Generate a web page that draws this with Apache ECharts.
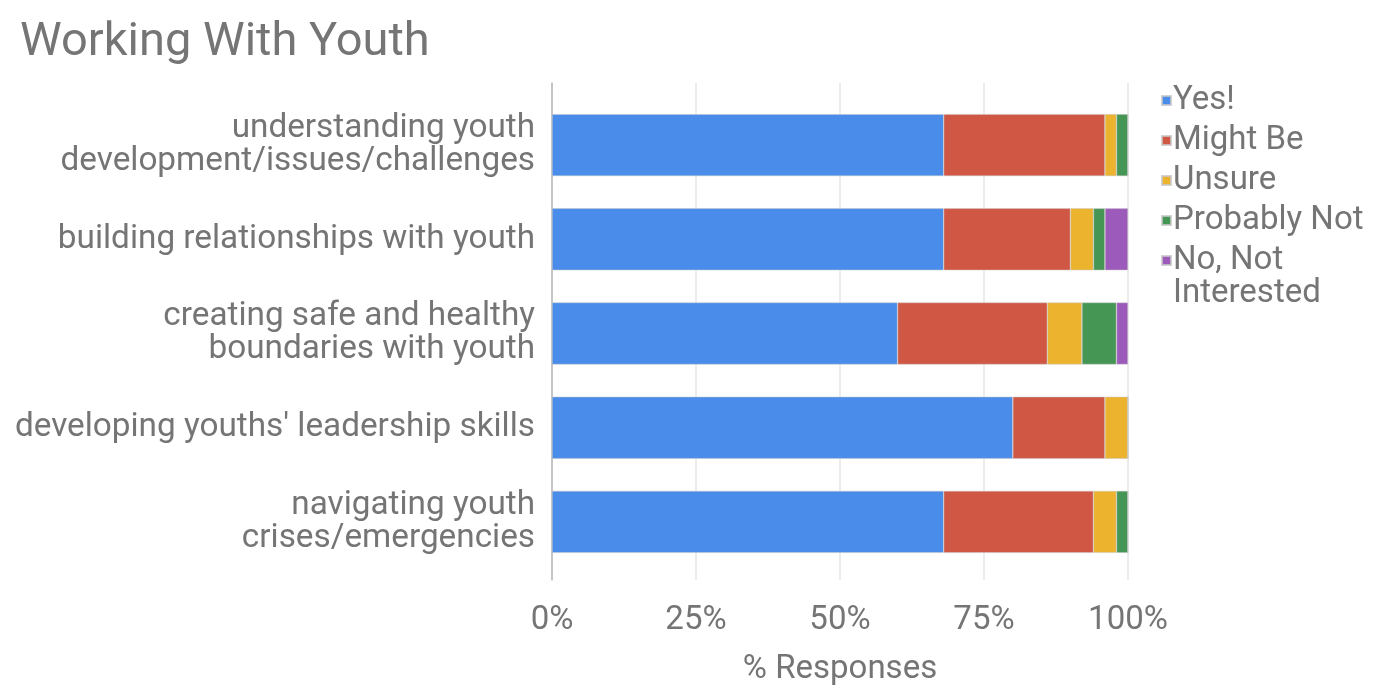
<!DOCTYPE html>
<html>
<head>
<meta charset="utf-8">
<script src="https://cdn.jsdelivr.net/npm/echarts@6/dist/echarts.min.js"></script>
<style>
html, body { margin: 0; padding: 0; background: #fff; }
#chart { width: 1382px; height: 694px; }
</style>
</head>
<body>
<div id="chart"></div>
<script>
var categories = [
    'understanding youth\ndevelopment/issues/challenges',
    'building relationships with youth',
    'creating safe and healthy\nboundaries with youth',
    "developing youths' leadership skills",
    'navigating youth\ncrises/emergencies'
];
var yes = [68, 68, 60, 80, 68];
var mightBe = [28, 22, 26, 16, 26];
var unsure = [2, 4, 6, 4, 4];
var probablyNot = [2, 2, 6, 0, 2];
var notInterested = [0, 4, 2, 0, 0];
var seriesNames = ['Yes!', 'Might Be', 'Unsure', 'Probably Not', 'No, Not Interested'];
var colors = ['#4a8ce9', '#cf5744', '#ecb32f', '#459654', '#9c5bba'];
var xTicks = [0, 25, 50, 75, 100];

var chart = echarts.init(document.getElementById('chart'));
var font = 'Roboto, sans-serif';
var grey = '#757575';

var dataSets = [yes, mightBe, unsure, probablyNot, notInterested];
var series = dataSets.map(function (d, i) {
    return {
        name: seriesNames[i],
        type: 'bar',
        stack: 'total',
        xAxisIndex: 0,
        yAxisIndex: 0,
        barWidth: 62,
        data: d,
        itemStyle: { color: colors[i], borderColor: 'rgba(200,200,200,0.8)', borderWidth: 0.6 }
    };
});

var legendText = { fontFamily: font, fontSize: 33, color: grey, lineHeight: 33, padding: [0, 0, 0, -3] };

var option = {
    animation: false,
    color: colors,
    title: {
        text: 'Working With Youth',
        left: 15,
        top: 15,
        textStyle: { fontFamily: font, fontSize: 47, fontWeight: 'normal', color: grey }
    },
    legend: [{
        orient: 'vertical',
        left: 1156,
        top: 79,
        itemWidth: 9,
        itemHeight: 9,
        itemGap: 7,
        icon: 'rect',
        data: seriesNames.slice(0, 4),
        textStyle: legendText
    }, {
        // last entry wraps; blank first line keeps the icon on "No, Not"
        orient: 'vertical',
        left: 1156,
        top: 206,
        itemWidth: 9,
        itemHeight: 9,
        icon: 'rect',
        data: [seriesNames[4]],
        formatter: function () { return ' \nNo, Not\nInterested'; },
        textStyle: legendText
    }],
    grid: [
        { left: 552, right: 254, top: 98, bottom: 125 },
        { left: 552, right: 254, top: 83, bottom: 114 }
    ],
    xAxis: [{
        type: 'value',
        gridIndex: 0,
        min: 0,
        max: 100,
        show: false
    }, {
        type: 'value',
        gridIndex: 1,
        min: 0,
        max: 100,
        interval: 25,
        name: '% Responses',
        nameLocation: 'middle',
        nameGap: 73,
        nameTextStyle: { fontFamily: font, fontSize: 33, color: grey },
        axisLine: { show: false },
        axisTick: { show: false },
        splitLine: { lineStyle: { color: '#e6e6e6', width: 1.5 } },
        axisLabel: {
            margin: 24,
            fontFamily: font, fontSize: 33, color: grey,
            customValues: xTicks,
            formatter: function (v) { return v + '%'; }
        }
    }],
    yAxis: [{
        type: 'category',
        gridIndex: 0,
        inverse: true,
        data: categories,
        axisLine: { show: false },
        axisTick: { show: false },
        axisLabel: {
            margin: 17,
            fontFamily: font, fontSize: 33.3, color: grey, lineHeight: 33, align: 'right'
        }
    }, {
        type: 'value',
        gridIndex: 1,
        axisLine: { show: true, lineStyle: { color: '#b8b8b8', width: 1.5 } },
        axisTick: { show: false },
        axisLabel: { show: false },
        splitLine: { show: false }
    }],
    series: series
};
chart.setOption(option);
</script>
</body>
</html>
